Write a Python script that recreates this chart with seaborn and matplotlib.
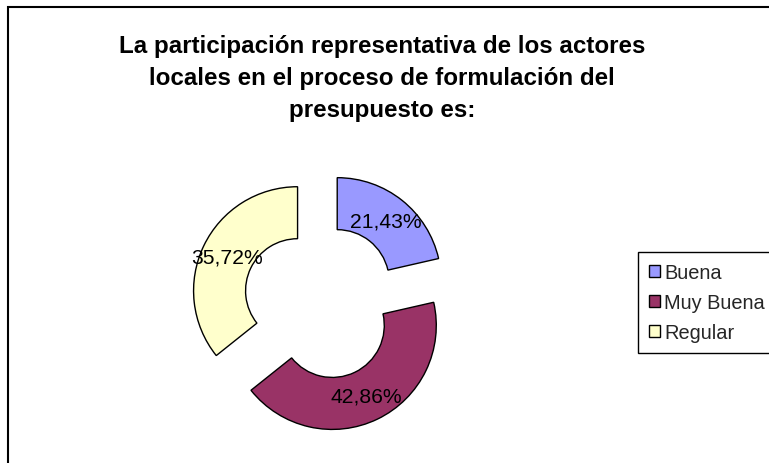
import matplotlib
matplotlib.use("Agg")
import matplotlib.pyplot as plt
import seaborn as sns
from matplotlib.patches import Rectangle

categories = ["Buena", "Muy Buena", "Regular"]
values = [21.43, 42.86, 35.72]
colors = ["#9999FF", "#993366", "#FFFFCC"]
title_lines = ["La participación representativa de los actores",
               "locales en el proceso de formulación del",
               "presupuesto es:"]

sns.set_theme(style="white")
plt.rcParams['font.family'] = ['Liberation Sans', 'DejaVu Sans']

W, H = 769, 464
fig = plt.figure(figsize=(W / 100, H / 100), dpi=100)
fig.patch.set_facecolor("white")

cx, cy, R = 321, 303, 104
half = 1.5 * R
ax = fig.add_axes([(cx - half) / W, (H - cy - half) / H, 2 * half / W, 2 * half / H])
wedges, texts, autotexts = ax.pie(
    values, colors=colors, startangle=90, counterclock=False,
    explode=[0.25] * len(values), radius=1,
    wedgeprops=dict(width=0.5, edgecolor="black", linewidth=1),
    autopct=lambda p: f"{p:.2f}%".replace(".", ","), pctdistance=0.75,
    textprops=dict(fontsize=15.2, color="black"))
ax.set_xlim(-1.5, 1.5)
ax.set_ylim(-1.5, 1.5)
ax.set_aspect("equal")
ax.axis("off")

for i, line in enumerate(title_lines):
    fig.text(382 / W, 1 - (47 + 32 * i) / H, line, ha="center", va="center",
             fontsize=17.4, fontweight="bold", color="black")

leg = fig.legend(wedges, categories, loc="upper left",
                 bbox_to_anchor=(638 / W, 1 - 253 / H), borderaxespad=0,
                 frameon=True, fancybox=False, edgecolor="black", framealpha=1,
                 handlelength=0.55, handleheight=0.55, handletextpad=0.22,
                 fontsize=14.4, labelspacing=0.55, borderpad=0.55)
leg.get_frame().set_linewidth(1)

fig.patches.append(Rectangle((7.5 / W, -0.05), 1.1, (1 - 7.5 / H) + 0.05,
                             transform=fig.transFigure, fill=False,
                             edgecolor="black", linewidth=1.5))

fig.savefig("out.png", dpi=100)
